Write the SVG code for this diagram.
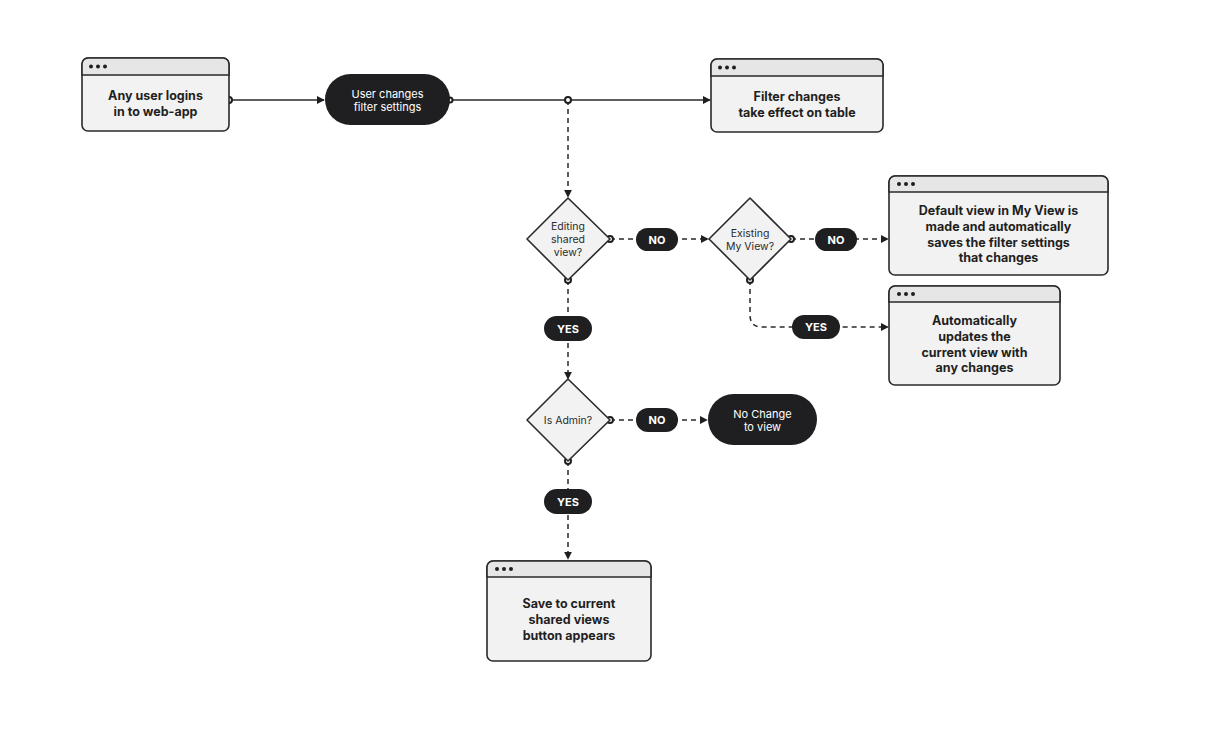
<svg xmlns="http://www.w3.org/2000/svg" width="1206" height="735" viewBox="0 0 1206 735">
<style>
.box{fill:#f2f2f2;stroke:#2a2a2c;stroke-width:1.6}
.hdr{fill:#e6e6e6;stroke:#2a2a2c;stroke-width:1.6}
.dot{fill:#1f1f21}
.bt{font-family:Inter,"Liberation Sans",sans-serif;font-size:12.5px;font-weight:700;fill:#1f1f21;text-anchor:middle}
.dk{fill:#1f1f21}
.wt{font-family:Inter,"Liberation Sans",sans-serif;font-size:11px;fill:#fff;text-anchor:middle}
.wb{font-family:Inter,"Liberation Sans",sans-serif;font-size:11px;font-weight:700;fill:#fff;text-anchor:middle}
.dt{font-family:Inter,"Liberation Sans",sans-serif;font-size:10.5px;fill:#2a2a2c;text-anchor:middle}
.dia{fill:#f2f2f2;stroke:#2a2a2c;stroke-width:1.6;stroke-linejoin:round}
.ln{fill:none;stroke:#2a2a2c;stroke-width:1.5}
.ds{fill:none;stroke:#2a2a2c;stroke-width:1.5;stroke-dasharray:5 4}
.jc{fill:#fff;stroke:#1f1f21;stroke-width:2}
</style>
<defs>
<marker id="ar" viewBox="0 0 10 10" refX="9" refY="5" markerWidth="8" markerHeight="8" markerUnits="userSpaceOnUse" orient="auto"><path d="M0,0L10,5L0,10z" fill="#1f1f21"/></marker>
</defs>
<rect width="1206" height="735" fill="#fff"/>
<g id="connectors">
<path class="ln" d="M229,100H324" marker-end="url(#ar)"/>
<path class="ln" d="M450,100H710" marker-end="url(#ar)"/>
<path class="ds" d="M568,100V197" marker-end="url(#ar)"/>
<path class="ds" d="M610,239H708" marker-end="url(#ar)"/>
<path class="ds" d="M791,239H888" marker-end="url(#ar)"/>
<path class="ds" d="M750,280V315Q750,327 762,327H888" marker-end="url(#ar)"/>
<path class="ds" d="M568,280V379" marker-end="url(#ar)"/>
<path class="ds" d="M610,420H707" marker-end="url(#ar)"/>
<path class="ds" d="M568,461V559" marker-end="url(#ar)"/>
<circle class="jc" cx="229" cy="100" r="3"/>
<circle class="jc" cx="450" cy="100" r="2.5"/>
<circle class="jc" cx="568" cy="100" r="3"/>
<circle class="jc" cx="610" cy="239" r="3"/>
<circle class="jc" cx="568" cy="280" r="3"/>
<circle class="jc" cx="791" cy="239" r="3"/>
<circle class="jc" cx="750" cy="280" r="3"/>
<circle class="jc" cx="610" cy="420" r="3"/>
<circle class="jc" cx="568" cy="461" r="3"/>
<rect class="dk" x="636" y="228" width="42" height="23" rx="11.5"/><text class="wb" x="657" y="243.5">NO</text>
<rect class="dk" x="815" y="228" width="42" height="23" rx="11.5"/><text class="wb" x="836" y="243.5">NO</text>
<rect class="dk" x="792" y="315" width="48" height="24" rx="12"/><text class="wb" x="816" y="331">YES</text>
<rect class="dk" x="544" y="316" width="48" height="25" rx="12.5"/><text class="wb" x="568" y="332.5">YES</text>
<rect class="dk" x="636" y="408" width="42" height="24" rx="12"/><text class="wb" x="657" y="424">NO</text>
<rect class="dk" x="544" y="489" width="48" height="25" rx="12.5"/><text class="wb" x="568" y="505.5">YES</text>
</g>
<g id="login">
<rect class="box" x="82" y="58" width="147" height="73" rx="6"/>
<path class="hdr" d="M82,75V64a6,6 0 0 1 6-6H223a6,6 0 0 1 6,6V75z"/>
<circle class="dot" cx="91" cy="66.5" r="2"/><circle class="dot" cx="98" cy="66.5" r="2"/><circle class="dot" cx="105" cy="66.5" r="2"/>
<text class="bt" x="155.5" y="100">Any user logins</text><text class="bt" x="155.5" y="116">in to web-app</text>
</g>
<g id="changes">
<rect class="dk" x="325" y="74" width="125" height="51" rx="25.5"/>
<text class="wt" x="387.5" y="98">User changes</text><text class="wt" x="387.5" y="111">filter settings</text>
</g>
<g id="effect">
<rect class="box" x="711" y="59" width="172" height="73" rx="6"/>
<path class="hdr" d="M711,76V65a6,6 0 0 1 6-6H877a6,6 0 0 1 6,6V76z"/>
<circle class="dot" cx="720" cy="67.5" r="2"/><circle class="dot" cx="727" cy="67.5" r="2"/><circle class="dot" cx="734" cy="67.5" r="2"/>
<text class="bt" x="797" y="101">Filter changes</text><text class="bt" x="797" y="117">take effect on table</text>
</g>
<g id="editing">
<path class="dia" d="M568,198L610,239L568,280L527,239z"/>
<text class="dt" x="568" y="230">Editing</text><text class="dt" x="568" y="243">shared</text><text class="dt" x="568" y="256">view?</text>
</g>
<g id="existing">
<path class="dia" d="M750,198L791,239L750,280L709,239z"/>
<text class="dt" x="750" y="237">Existing</text><text class="dt" x="750" y="250">My View?</text>
</g>
<g id="defaultview">
<rect class="box" x="889" y="176" width="219" height="99" rx="6"/>
<path class="hdr" d="M889,192V182a6,6 0 0 1 6-6H1102a6,6 0 0 1 6,6V192z"/>
<circle class="dot" cx="899" cy="184" r="2"/><circle class="dot" cx="906" cy="184" r="2"/><circle class="dot" cx="913" cy="184" r="2"/>
<text class="bt" x="998.5" y="215">Default view in My View is</text><text class="bt" x="998.5" y="231">made and automatically</text><text class="bt" x="998.5" y="247">saves the filter settings</text><text class="bt" x="998.5" y="262">that changes</text>
</g>
<g id="autoupdate">
<rect class="box" x="889" y="286" width="171" height="99" rx="6"/>
<path class="hdr" d="M889,302V292a6,6 0 0 1 6-6H1054a6,6 0 0 1 6,6V302z"/>
<circle class="dot" cx="899" cy="294" r="2"/><circle class="dot" cx="906" cy="294" r="2"/><circle class="dot" cx="913" cy="294" r="2"/>
<text class="bt" x="974.5" y="325">Automatically</text><text class="bt" x="974.5" y="341">updates the</text><text class="bt" x="974.5" y="357">current view with</text><text class="bt" x="974.5" y="372">any changes</text>
</g>
<g id="admin">
<path class="dia" d="M568,379L610,420L568,461L527,420z"/>
<text class="dt" x="568" y="424">Is Admin?</text>
</g>
<g id="nochange">
<rect class="dk" x="708" y="394" width="109" height="51" rx="25.5"/>
<text class="wt" x="762.5" y="418">No Change</text><text class="wt" x="762.5" y="431">to view</text>
</g>
<g id="save">
<rect class="box" x="487" y="561" width="164" height="100" rx="6"/>
<path class="hdr" d="M487,577V567a6,6 0 0 1 6-6H645a6,6 0 0 1 6,6V577z"/>
<circle class="dot" cx="497" cy="569" r="2"/><circle class="dot" cx="504" cy="569" r="2"/><circle class="dot" cx="511" cy="569" r="2"/>
<text class="bt" x="569" y="608">Save to current</text><text class="bt" x="569" y="624">shared views</text><text class="bt" x="569" y="640">button appears</text>
</g>
</svg>
